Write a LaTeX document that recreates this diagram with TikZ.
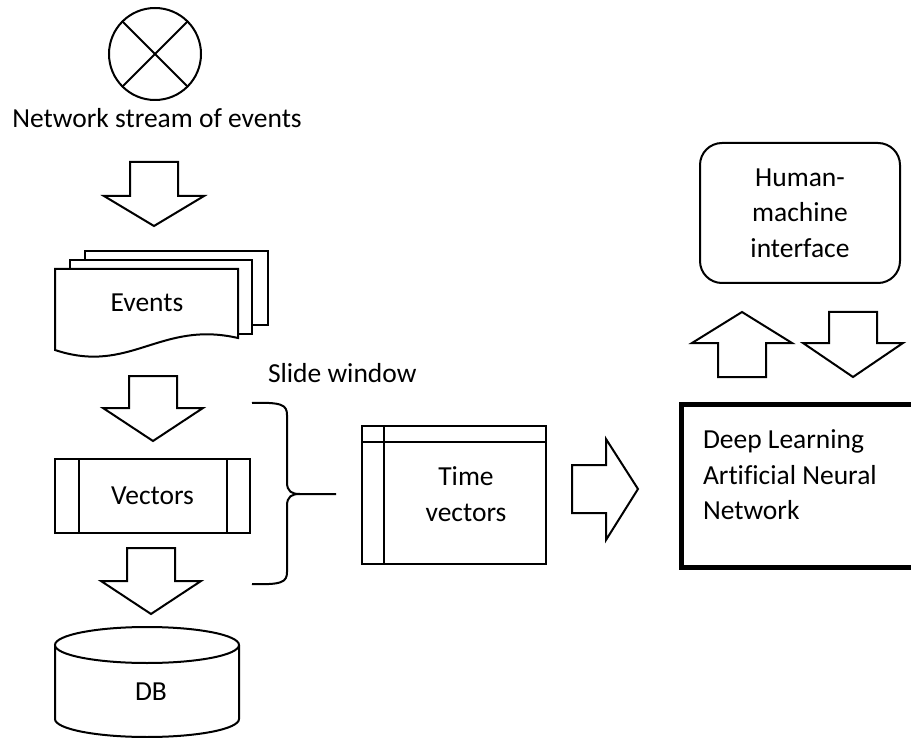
\documentclass[tikz,border=0pt]{standalone}
\usepackage{fontspec}
\setmainfont{Carlito}[Ligatures=NoCommon]

% block arrow: centre x, shaft end, head base, tip
\newcommand{\fatarrow}[4]{%
	\draw[blockarrow] (#1-24,#2) -- (#1+24,#2) -- (#1+24,#3) -- (#1+50,#3) -- (#1,#4) -- (#1-50,#3) -- (#1-24,#3) -- cycle;}

\begin{document}
\begin{tikzpicture}[x=1pt, y=-1pt, line width=2pt, black, box/.style={draw, fill=white, inner sep=0pt}, txt/.style={inner sep=0pt, align=center}, blockarrow/.style={draw, fill=white}]
				\fontsize{27.5pt}{35.5pt}\selectfont
				\useasboundingbox (0,0) rectangle (911,738);
				\clip (0,0) rectangle (911,738);
				
				% draw the source of events
				\node[box, circle, minimum size=92pt] (src) at (155,54) {};
				\draw (src.north west) -- (src.south east) (src.north east) -- (src.south west);
				\node[txt] (srctext) at (157,118) {Network stream of events};
				
				% draw the stacked event pages
				\draw[box] (85,251) rectangle (268,325);
				\draw[box] (70,260) rectangle (252,334);
				\draw[box] (55,269) -- (238,269) -- (238,338) .. controls (160,320) and (130,375) .. (55,350) -- cycle;
				\node[txt] (events) at (147,303) {Events};
				
				% draw vectors and database
				\node[box, minimum width=195pt, minimum height=74pt] (vec) at (152.5,496) {Vectors};
				\draw ([xshift=25pt]vec.north west) -- ([xshift=25pt]vec.south west);
				\draw ([xshift=-24pt]vec.north east) -- ([xshift=-24pt]vec.south east);
				
				\draw[box] (55,645) -- (55,719) arc[start angle=180, end angle=0, x radius=92, y radius=18] -- (239,645);
				\draw[box] (147,645) ellipse[x radius=92, y radius=18];
				\node[txt] (db) at (151,692) {DB};
				
				% draw the slide window brace
				\node[txt, anchor=west] (slide) at (267,373) {Slide window};
				\draw (252,403) .. controls (282,402) and (287,405) .. (287,415) -- (287,482) .. controls (287,492) and (292,494) .. (300,494) -- (336,494);
				\draw (252,584) .. controls (282,585) and (287,582) .. (287,572) -- (287,506) .. controls (287,496) and (292,494) .. (300,494);
				
				% draw time vectors
				\node[box, minimum width=184pt, minimum height=138pt] (tv) at (454,495) {};
				\draw ([yshift=-17pt]tv.north west) -- ([yshift=-17pt]tv.north east);
				\draw ([xshift=23pt]tv.north west) -- ([xshift=23pt]tv.south west);
				\node[txt] (tvtext) at (466,494) {Time\\vectors};
				
				% draw the network and the interface
				\node[box, rounded corners=22pt, minimum width=200pt, minimum height=140pt, align=center] (hmi) at (800,213) {Human-\\machine\\interface};
				\node[draw, line width=4.5pt, minimum width=260pt, minimum height=163pt, anchor=north west] (dl) at (679,402) {};
				\node[txt, anchor=west, align=left] (dltext) at (702,475) {Deep Learning\\Artificial Neural\\Network};
				
				% draw block arrows
				\fatarrow{154}{162}{196}{226}
				\fatarrow{153}{376}{408}{441}
				\fatarrow{151}{548}{581}{614}
				\fatarrow{742}{377}{343}{312}
				\fatarrow{853}{312}{343}{377}
				\draw[blockarrow] (572,465) -- (606,465) -- (606,439) -- (638,489) -- (606,540) -- (606,513) -- (572,513) -- cycle;
			\end{tikzpicture}
\end{document}
